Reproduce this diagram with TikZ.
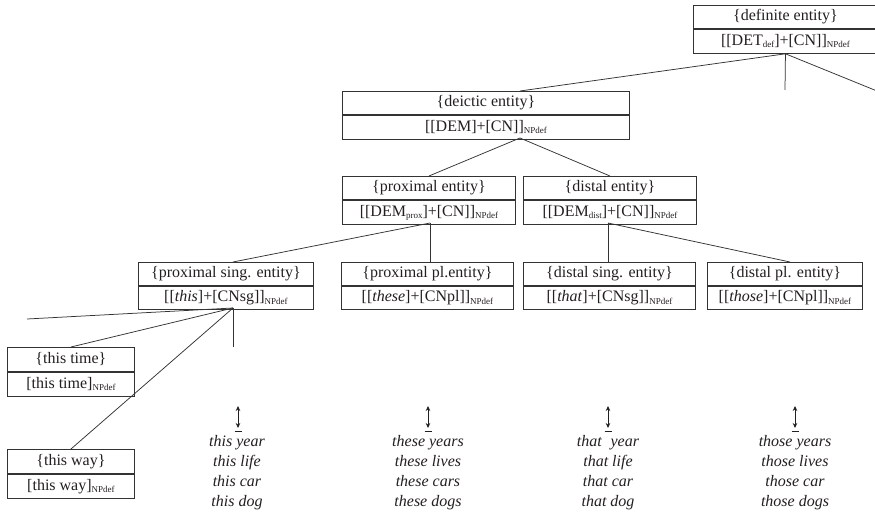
\documentclass[tikz,border=0pt]{standalone}
\usepackage{fontspec}
\setmainfont{Liberation Serif}
\usetikzlibrary{arrows.meta}
\definecolor{ink}{HTML}{231F20}
\definecolor{rule}{HTML}{333333}
% lowered small subscript used in the category labels
\newcommand\lsub[1]{\raisebox{-0.35ex}{\fontsize{9}{9}\selectfont #1}}
\begin{document}
\begin{tikzpicture}[x=1pt,y=-1pt,
  cell/.style={draw=rule, line width=0.9pt, anchor=north west, inner sep=0pt,
    text=ink, text height=11pt, text depth=3.5pt, font=\fontsize{16}{19}\selectfont},
  link/.style={draw=rule, line width=0.75pt},
  examples/.style={text=ink, align=center, inner sep=0pt,
    font=\fontsize{16}{20}\selectfont\itshape},
  biarrow/.style={draw=ink, line width=0.75pt, {Stealth[length=5pt,width=4.5pt]}-{Stealth[length=5pt,width=4.5pt]}},
  basebar/.style={draw=ink, line width=0.75pt}
]
\useasboundingbox (0,0) rectangle (875,513);
\clip (0,0) rectangle (875,513);

% ---- category boxes: upper half (name) and lower half (name-b)
\node[cell, minimum width=184pt, minimum height=23.5pt] (def) at (693,5) {\{definite entity\}};
\node[cell, minimum width=184pt, minimum height=23.5pt] (def-b) at (def.south west) {[[DET\lsub{def}]+[CN]]\lsub{NPdef}};

\node[cell, minimum width=287pt, minimum height=23pt] (deic) at (342,91) {\{deictic entity\}};
\node[cell, minimum width=287pt, minimum height=24pt] (deic-b) at (deic.south west) {[[DEM]+[CN]]\lsub{NPdef}};

\node[cell, minimum width=173pt, minimum height=23.5pt] (prox) at (342,176) {\{proximal entity\}};
\node[cell, minimum width=173pt, minimum height=23.5pt] (prox-b) at (prox.south west) {[[DEM\lsub{prox}]+[CN]]\lsub{NPdef}};

\node[cell, minimum width=173pt, minimum height=23.5pt] (dist) at (523,176) {\{distal entity\}};
\node[cell, minimum width=173pt, minimum height=23.5pt] (dist-b) at (dist.south west) {[[DEM\lsub{dist}]+[CN]]\lsub{NPdef}};

\node[cell, minimum width=175pt, minimum height=23pt] (psing) at (138,262) {\{proximal sing. entity\}};
\node[cell, minimum width=175pt, minimum height=23pt] (psing-b) at (psing.south west) {[[\textit{this}]+[CNsg]]\lsub{NPdef}};

\node[cell, minimum width=172pt, minimum height=23pt] (ppl) at (341,262) {\{proximal pl.entity\}};
\node[cell, minimum width=172pt, minimum height=23pt] (ppl-b) at (ppl.south west) {[[\textit{these}]+[CNpl]]\lsub{NPdef}};

\node[cell, minimum width=172pt, minimum height=23pt] (dsing) at (523,262) {\{distal sing. entity\}};
\node[cell, minimum width=172pt, minimum height=23pt] (dsing-b) at (dsing.south west) {[[\textit{that}]+[CNsg]]\lsub{NPdef}};

\node[cell, minimum width=155pt, minimum height=23pt] (dpl) at (707,262) {\{distal pl. entity\}};
\node[cell, minimum width=155pt, minimum height=23pt] (dpl-b) at (dpl.south west) {[[\textit{those}]+[CNpl]]\lsub{NPdef}};

\node[cell, minimum width=127pt, minimum height=24pt] (time) at (7,347) {\{this time\}};
\node[cell, minimum width=127pt, minimum height=24pt] (time-b) at (time.south west) {[this time]\lsub{NPdef}};

\node[cell, minimum width=127pt, minimum height=24pt] (way) at (7,449) {\{this way\}};
\node[cell, minimum width=127pt, minimum height=24pt] (way-b) at (way.south west) {[this way]\lsub{NPdef}};

% ---- attachment points on box edges and free branch ends
\coordinate (deic-in) at (520,91);
\coordinate (deic-out) at (520,138);
\coordinate (prox-out) at (430,223);
\coordinate (psing-in) at (233,262);
\coordinate (ppl-in) at (430,262);
\coordinate (dist-out) at (608,223);
\coordinate (dsing-in) at (608,262);
\coordinate (dpl-in) at (790,262);
\coordinate (psing-out) at (233,308);
\coordinate (def-mid) at (785,90);
\coordinate (def-right) at (877,91);
\coordinate (psing-left) at (27,319);
\coordinate (psing-mid) at (233,347);

% ---- tree branches
\path[link] (def-b.south) -- (deic-in);
\path[link] (def-b.south) -- (def-mid);
\path[link] (def-b.south) -- (def-right);
\path[link] (deic-out) -- (prox.north);
\path[link] (deic-out) -- (dist.north);
\path[link] (prox-out) -- (psing-in);
\path[link] (prox-out) -- (ppl-in);
\path[link] (dist-out) -- (dsing-in);
\path[link] (dist-out) -- (dpl-in);
\path[link] (psing-out) -- (psing-left);
\path[link] (psing-out) -- (time.north);
\path[link] (psing-out) -- (way.north);
\path[link] (psing-out) -- (psing-mid);

% ---- up-down arrows with base, above each example list
\foreach \x/\n in {238/a, 428/b, 608/c, 795/d}{
  \coordinate (top-\n) at (\x,406);
  \coordinate (bot-\n) at (\x,428);
  \path[biarrow] (top-\n) -- (bot-\n);
  \path[basebar] (\x-3.5,431) -- (\x+3.5,431);
}

% ---- example phrases
\node[examples] (ex-this) at (237,473) {this year\\this life\\this car\\this dog};
\node[examples] (ex-these) at (428,473) {these years\\these lives\\these cars\\these dogs};
\node[examples] (ex-that) at (608,473) {that\hspace{0.3em} year\\that life\\that car\\that dog};
\node[examples] (ex-those) at (795,473) {those years\\those lives\\those car\\those dogs};
\end{tikzpicture}
\end{document}
